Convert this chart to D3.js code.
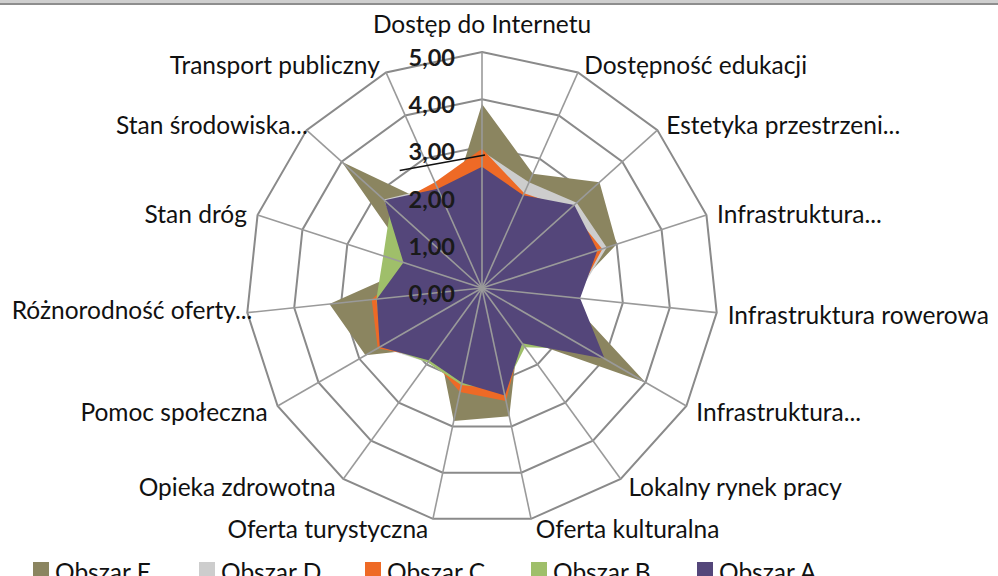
<!DOCTYPE html>
<html lang="pl">
<head>
<meta charset="utf-8">
<title>Radar - obszary</title>
<script src="https://d3js.org/d3.v7.min.js"></script>
<style>
  body { margin: 0; background: #fff; }
  svg { display: block; }
</style>
</head>
<body>
<script>
const width = 998, height = 576;
const cx = 482, cy = 288, R = 236;

const categories = [
  "Dostęp do Internetu", "Dostępność edukacji", "Estetyka przestrzeni...",
  "Infrastruktura...", "Infrastruktura rowerowa", "Infrastruktura...",
  "Lokalny rynek pracy", "Oferta kulturalna", "Oferta turystyczna",
  "Opieka zdrowotna", "Pomoc społeczna", "Różnorodność oferty...",
  "Stan dróg", "Stan środowiska...", "Transport publiczny"
];
const ticks = [0, 1, 2, 3, 4, 5];

const seriesNames = ["Obszar E", "Obszar D", "Obszar C", "Obszar B", "Obszar A"];
const obszarE = [3.9, 2.65, 3.35, 3.0, 1.8, 4.0, 1.3, 2.78, 2.88, 1.55, 2.85, 3.25, 1.5, 4.0, 1.75];
const obszarD = [2.9, 2.45, 2.7, 2.78, 2.0, 2.8, 1.4, 2.3, 2.1, 1.95, 2.5, 2.3, 1.6, 2.8, 2.35];
const obszarC = [2.95, 2.2, 2.5, 2.68, 2.0, 2.7, 1.4, 2.45, 2.25, 1.85, 2.55, 2.35, 1.6, 2.6, 2.45];
const obszarB = [2.5, 2.0, 2.4, 2.4, 1.9, 2.6, 1.55, 2.2, 2.1, 1.95, 2.45, 2.25, 2.2, 2.6, 2.2];
const obszarA = [2.57, 2.15, 2.63, 2.57, 2.09, 3.0, 1.45, 2.33, 2.05, 1.9, 2.5, 2.24, 1.75, 2.78, 2.3];
const colors = ["#8b8560", "#cdcdcd", "#ee6a26", "#9fbf6a", "#54467a"];

// hand drawn stroke over the chart: [angle in degrees, value]
const annot = [[-35, 3.04], [1.3, 2.82]];

const allSeries = [obszarE, obszarD, obszarC, obszarB, obszarA];
const fmt = d3.formatLocale({decimal: ",", thousands: " ", grouping: [3], currency: ["", " zł"]}).format(".2f");
const font = "Lato, 'Open Sans', sans-serif";

const r = d3.scaleLinear().domain([0, 5]).range([0, R]);
const ang = d3.scalePoint().domain(d3.range(categories.length + 1)).range([0, 2 * Math.PI]);

const svg = d3.select("body").append("svg")
  .attr("width", width).attr("height", height);

svg.append("rect").attr("width", width).attr("height", height).attr("fill", "#fff");
svg.append("rect").attr("width", width).attr("height", 4).attr("fill", "#cfcfcf");
svg.append("line").attr("x1", 0).attr("x2", width).attr("y1", 4).attr("y2", 4)
  .attr("stroke", "#8e8e8e").attr("stroke-width", 2);

const g = svg.append("g").attr("transform", `translate(${cx},${cy})`);
const pt = (i, v) => [r(v) * Math.sin(ang(i)), -r(v) * Math.cos(ang(i))];

// ring grid
g.selectAll(".ring").data(ticks.slice(1)).join("polygon")
  .attr("points", t => categories.map((c, i) => pt(i, t).join(",")).join(" "))
  .attr("fill", "none").attr("stroke", "#8a8a8a").attr("stroke-width", 2);

// series areas
const line = d3.lineRadial()
  .angle((d, i) => ang(i))
  .radius(d => r(d))
  .curve(d3.curveLinearClosed);

g.selectAll(".area").data(allSeries).join("path")
  .attr("d", d => line(d))
  .attr("fill", (d, i) => colors[i]);

// spokes
g.selectAll(".spoke").data(categories).join("line")
  .attr("x1", 0).attr("y1", 0)
  .attr("x2", (c, i) => pt(i, 5)[0]).attr("y2", (c, i) => pt(i, 5)[1])
  .attr("stroke", "#9a9a9a").attr("stroke-width", 1.6);

// tick labels
g.selectAll(".tick").data(ticks).join("text")
  .attr("x", -27).attr("y", t => -r(t) + 14)
  .attr("text-anchor", "end")
  .attr("font-family", font)
  .attr("font-size", 23.5).attr("font-weight", "bold").attr("fill", "#1a1a1a")
  .text(t => fmt(t));

// annotation stroke
g.append("path")
  .attr("d", d3.line()(annot.map(a => [r(a[1]) * Math.sin(a[0] * Math.PI / 180), -r(a[1]) * Math.cos(a[0] * Math.PI / 180)])))
  .attr("stroke", "#111").attr("stroke-width", 1.5).attr("fill", "none");

// category labels
const nudge = {11: [16, -5], 13: [10, 0]};
g.selectAll(".cat").data(categories).join("text")
  .each(function(c, i) {
    const a = ang(i), s = Math.sin(a), co = Math.cos(a);
    const [tx, ty] = pt(i, 5);
    let x = tx, y = ty + 1.2 + 18 * (1 - co) / 2, anchor = "middle";
    if (s > 0.01) { anchor = "start"; x = tx + 3 + 8 * Math.abs(s); }
    else if (s < -0.01) { anchor = "end"; x = tx - 3 - 8 * Math.abs(s); }
    else { y = ty - 19; }
    const n = nudge[i] || [0, 0];
    d3.select(this).attr("x", x + n[0]).attr("y", y + n[1]).attr("text-anchor", anchor);
  })
  .attr("font-family", font)
  .attr("font-size", 24.5).attr("fill", "#111")
  .text(c => c);

// legend
const leg = svg.append("g").selectAll("g").data(seriesNames).join("g")
  .attr("transform", (d, i) => `translate(${33 + i * 166},562)`);
leg.append("rect").attr("width", 16).attr("height", 16).attr("fill", (d, i) => colors[i]);
leg.append("text").attr("x", 22).attr("y", 19)
  .attr("font-family", font)
  .attr("font-size", 24.5).attr("fill", "#111")
  .text(d => d);
</script>
</body>
</html>
